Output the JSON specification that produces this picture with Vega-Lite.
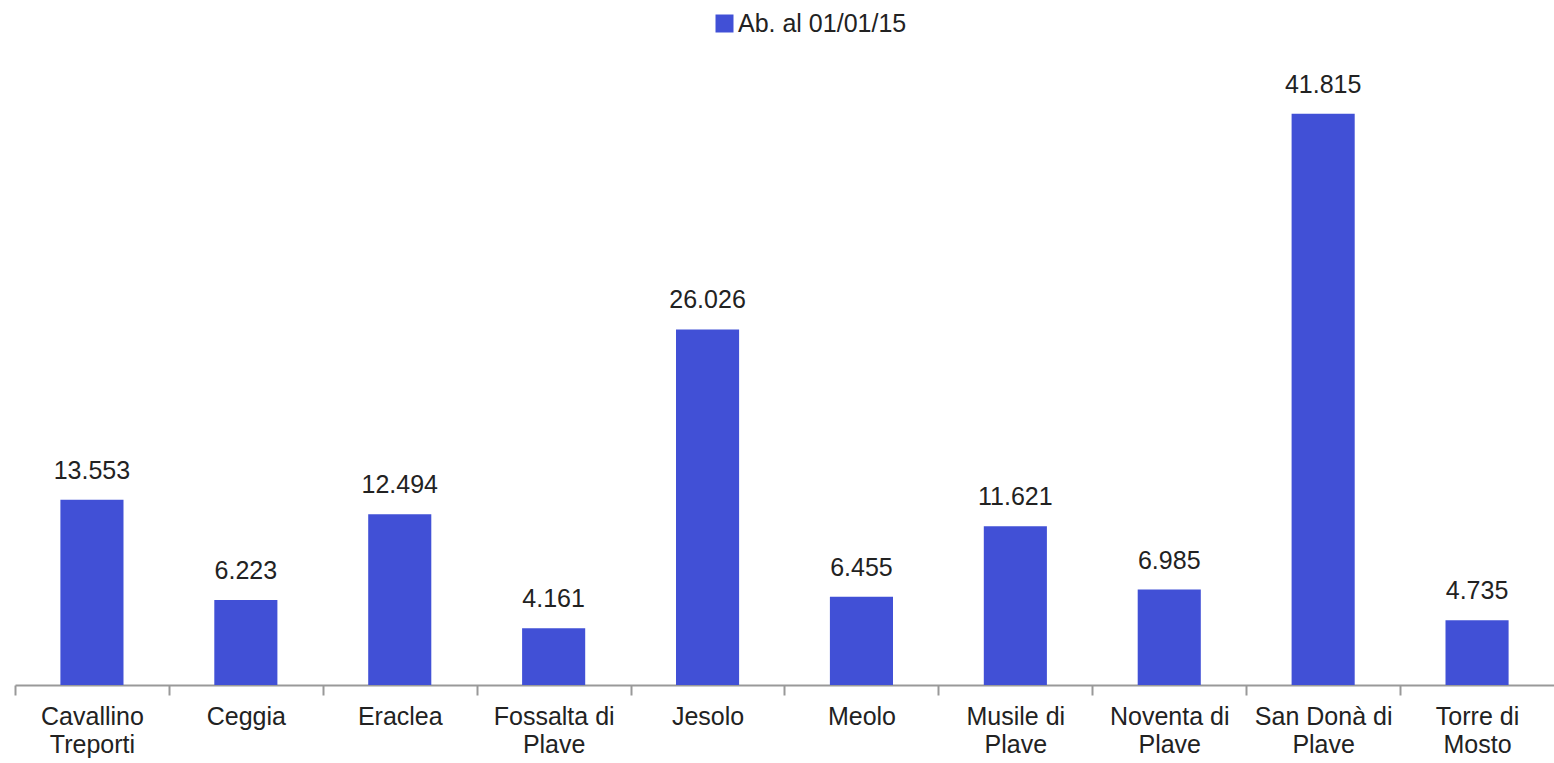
{
  "$schema": "https://vega.github.io/schema/vega-lite/v6.json",
  "autosize": "none",
  "width": 1539,
  "height": 683,
  "padding": {"left": 15, "top": 2, "right": 0, "bottom": 78},
  "background": "white",
  "config": {
    "view": {"stroke": null},
    "font": "Liberation Sans",
    "locale": {"number": {"decimal": ",", "thousands": ".", "grouping": [3], "currency": ["€", ""]}}
  },
  "data": {
    "values": [
      {"comune": "Cavallino Treporti", "abitanti": 13553},
      {"comune": "Ceggia", "abitanti": 6223},
      {"comune": "Eraclea", "abitanti": 12494},
      {"comune": "Fossalta di Plave", "abitanti": 4161},
      {"comune": "Jesolo", "abitanti": 26026},
      {"comune": "Meolo", "abitanti": 6455},
      {"comune": "Musile di Plave", "abitanti": 11621},
      {"comune": "Noventa di Plave", "abitanti": 6985},
      {"comune": "San Donà di Plave", "abitanti": 41815},
      {"comune": "Torre di Mosto", "abitanti": 4735}
    ]
  },
  "encoding": {
    "x": {
      "field": "comune",
      "type": "nominal",
      "sort": null,
      "scale": {"paddingInner": 0.59, "paddingOuter": 0.295},
      "axis": {
        "title": null,
        "labelAngle": 0,
        "domainColor": "#999999",
        "domainWidth": 2,
        "tickColor": "#999999",
        "tickWidth": 2,
        "tickSize": 10,
        "tickOffset": -76.95,
        "labelOffset": 76.95,
        "labelPadding": 9,
        "labelFontSize": 25,
        "labelColor": "#222222",
        "labelLineHeight": 28,
        "labelBaseline": "top",
        "labelExpr": "indexof(datum.value,' ') < 0 ? datum.value : [slice(datum.value,0,lastindexof(datum.value,' ')), slice(datum.value,lastindexof(datum.value,' ')+1)]"
      }
    },
    "y": {
      "field": "abitanti",
      "type": "quantitative",
      "scale": {"domain": [0, 50000], "nice": false},
      "axis": null
    }
  },
  "layer": [
    {
      "mark": {"type": "bar"},
      "encoding": {
        "color": {
          "datum": "Ab. al 01/01/15",
          "type": "nominal",
          "scale": {"range": ["#4150d6"]},
          "legend": {
            "title": null,
            "orient": "none",
            "legendX": 697,
            "legendY": 9,
            "symbolType": "square",
            "symbolSize": 324,
            "labelFontSize": 25,
            "labelColor": "#222222",
            "labelOffset": 1,
            "labelLimit": 400,
            "padding": 0
          }
        }
      }
    },
    {
      "mark": {"type": "text", "baseline": "alphabetic", "dy": -21, "fontSize": 25, "color": "#222222"},
      "encoding": {"text": {"field": "abitanti", "type": "quantitative", "format": ",d"}}
    }
  ]
}
